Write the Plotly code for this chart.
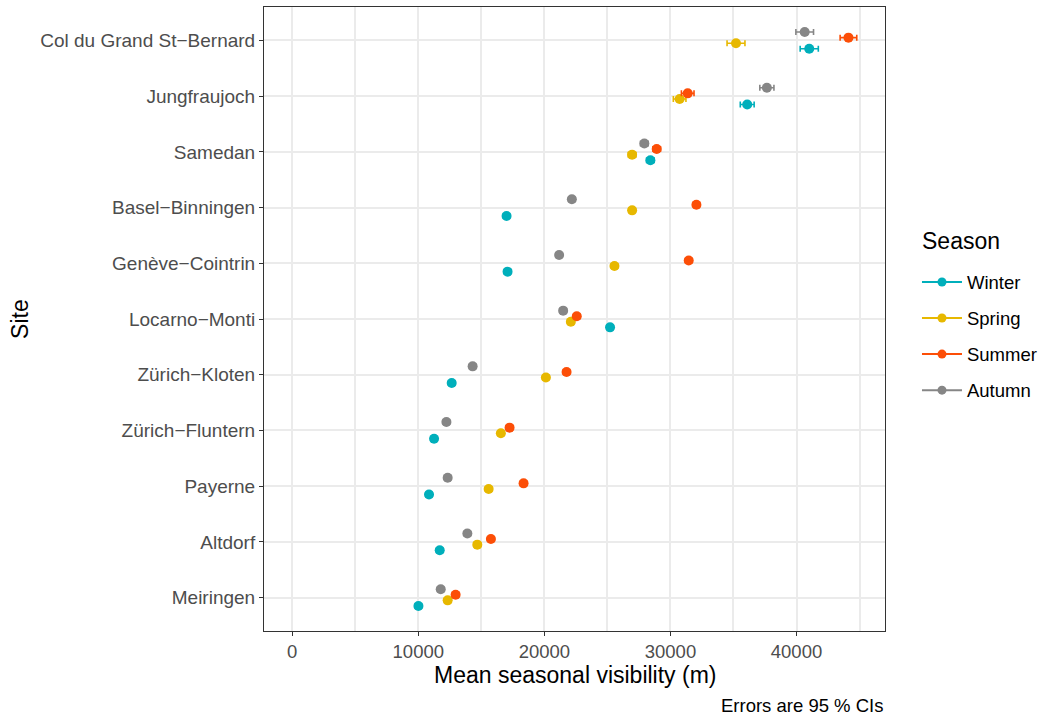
import plotly.graph_objects as go

sites = ["Meiringen", "Altdorf", "Payerne", "Zürich−Fluntern", "Zürich−Kloten",
         "Locarno−Monti", "Genève−Cointrin", "Basel−Binningen", "Samedan",
         "Jungfraujoch", "Col du Grand St−Bernard"]
seasons = ["Winter", "Spring", "Summer", "Autumn"]
colors = {"Winter": "#00AFBB", "Spring": "#E7B800", "Summer": "#FC4E07", "Autumn": "#868686"}

# mean visibility (m), ordered as sites (bottom to top)
winter = [10010, 11700, 10850, 11250, 12650, 25210, 17080, 17000, 28410, 36090, 41010]
spring = [12330, 14680, 15580, 16550, 20120, 22100, 25560, 26960, 26960, 30730, 35200]
summer = [12960, 15760, 18350, 17240, 21760, 22570, 31450, 32060, 28910, 31370, 44120]
autumn = [11780, 13890, 12330, 12230, 14310, 21490, 21170, 22180, 27930, 37650, 40650]

# 95% CI half-widths (m)
winter_err = [250, 250, 250, 250, 250, 250, 250, 250, 300, 550, 720]
spring_err = [250, 250, 250, 250, 250, 250, 250, 250, 300, 500, 710]
summer_err = [250, 250, 250, 250, 250, 250, 250, 250, 300, 500, 660]
autumn_err = [250, 250, 250, 250, 250, 250, 250, 250, 300, 560, 700]

values = {"Winter": winter, "Spring": spring, "Summer": summer, "Autumn": autumn}
errors = {"Winter": winter_err, "Spring": spring_err, "Summer": summer_err, "Autumn": autumn_err}
dodge = {"Winter": -0.15, "Spring": -0.05, "Summer": 0.05, "Autumn": 0.15}

font = "Liberation Sans, Arial, sans-serif"
fig = go.Figure()

for s in seasons:
    ys = [i + 1 + dodge[s] for i in range(len(sites))]
    fig.add_trace(go.Scatter(
        x=values[s], y=ys, mode="markers", name=s, showlegend=False,
        marker=dict(color=colors[s], size=10),
        error_x=dict(type="data", array=errors[s], color=colors[s], thickness=1.6, width=3),
    ))

for s in seasons:
    fig.add_trace(go.Scatter(
        x=[None], y=[None], mode="lines+markers", name=s, legendgroup=s,
        line=dict(color=colors[s], width=2), marker=dict(color=colors[s], size=9),
    ))

tick_font = dict(size=19, color="#4D4D4D", family=font)

fig.update_layout(
    width=1044, height=716,
    margin=dict(l=264, r=159, t=7, b=85, autoexpand=False),
    paper_bgcolor="white", plot_bgcolor="white",
    font=dict(family=font, color="#4D4D4D", size=16),
    showlegend=True,
    legend=dict(
        font=dict(size=18.5, color="black"),
        x=1.0515, xanchor="left", y=0.589, yanchor="top",
        traceorder="grouped", tracegroupgap=9,
        itemwidth=40,
    ),
    xaxis=dict(
        range=[-2239, 47019], tickvals=[0, 10000, 20000, 30000, 40000],
        ticktext=["0", "10000", "20000", "30000", "40000"],
        showgrid=True, gridcolor="#EBEBEB", gridwidth=2,
        minor=dict(tickvals=[5000, 15000, 25000, 35000, 45000], showgrid=True,
                   gridcolor="#EBEBEB", gridwidth=1.6, ticks=""),
        zeroline=False, showline=True, linecolor="#333333", linewidth=1, mirror=True,
        ticks="outside", ticklen=4, tickcolor="#333333", tickwidth=1,
        tickfont=dict(size=18.5, color="#4D4D4D", family=font),
    ),
    yaxis=dict(
        range=[0.4, 11.6], tickvals=list(range(1, len(sites) + 1)), ticktext=sites,
        showgrid=True, gridcolor="#EBEBEB", gridwidth=2,
        zeroline=False, showline=True, linecolor="#333333", linewidth=1, mirror=True,
        ticks="outside", ticklen=4, tickcolor="#333333", tickwidth=1,
        tickfont=tick_font,
    ),
    annotations=[
        dict(text="Mean seasonal visibility (m)", xref="paper", yref="paper",
             x=0.5, y=-0.07, xanchor="center", yanchor="middle", showarrow=False,
             font=dict(size=23, color="black")),
        dict(text="Site", xref="paper", yref="paper", x=-0.393, y=0.5, textangle=-90,
             xanchor="center", yanchor="middle", showarrow=False,
             font=dict(size=23, color="black")),
        dict(text="Errors are 95 % CIs", xref="paper", yref="paper", x=1, y=-0.119,
             xanchor="right", yanchor="middle", showarrow=False,
             font=dict(size=18.5, color="black")),
        dict(text="Season", xref="paper", yref="paper", x=1.056, y=0.625,
             xanchor="left", yanchor="middle", showarrow=False,
             font=dict(size=23, color="black")),
    ],
)

fig.write_html("out.html")
